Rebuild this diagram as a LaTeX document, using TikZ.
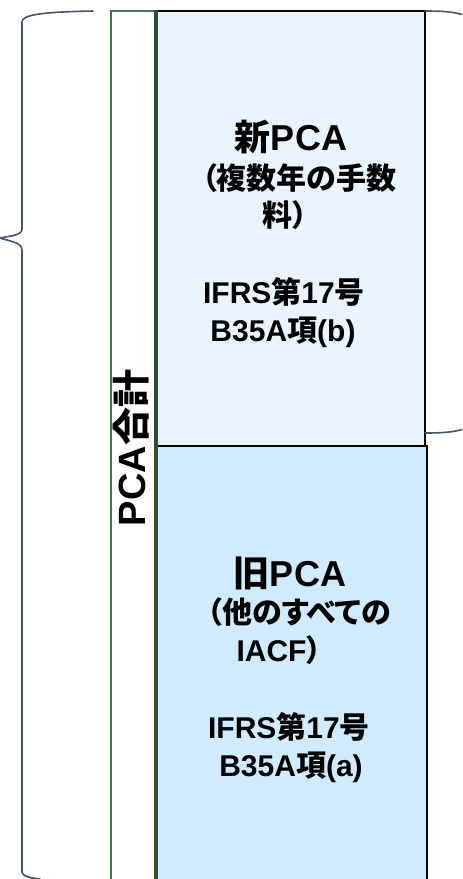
\documentclass[tikz,border=0pt]{standalone}
\usepackage{fontspec}
\setmainfont{Liberation Sans}
\newfontfamily\jp[RawFeature=+palt]{Noto Sans CJK JP}
\newcommand\J[1]{{\jp #1}}
\definecolor{topfill}{HTML}{E9F5FE}
\definecolor{botfill}{HTML}{D0EAFE}
\definecolor{stripgreen}{HTML}{4A6E4E}
\definecolor{darkgreen}{HTML}{2F4F33}
\definecolor{bracecol}{HTML}{44546A}
\begin{document}
\begin{tikzpicture}[x=0.75pt,y=-0.75pt,
  txt/.style={inner sep=0pt,anchor=base,font=\bfseries\fontsize{22.5}{27}\selectfont},
  ttl/.style={inner sep=0pt,anchor=base,font=\bfseries\fontsize{27}{30}\selectfont},
  bracestyle/.style={draw=bracecol,line width=1.2pt,line cap=round}]
\useasboundingbox (0,0) rectangle (462,879);
\clip (0,0) rectangle (462,879);
% boxes
\fill[topfill] (157,11) rectangle (425,446);
\fill[botfill] (157,446) rectangle (427,895);
\draw[stripgreen,line width=1.2pt] (111,895) -- (111,11) -- (157,11);
\draw[black,line width=1.5pt] (157,11) -- (425,11) -- (425,446);
\draw[black,line width=1.5pt] (157,446) -- (427,446) -- (427,895);
\draw[darkgreen,line width=2.4pt] (156,10.2) -- (156,895);
% left brace
\draw[bracestyle] (93,11) .. controls (40,12) and (22,15) .. (22,22)
  -- (22,229) .. controls (22,236) and (8,236) .. (0,238)
  .. controls (8,241) and (22,242) .. (22,250)
  -- (22,872) .. controls (22,876) and (30,878) .. (40,879);
% right brace ends
\draw[bracestyle] (425,11) .. controls (445,11) and (460,12) .. (470,18);
\draw[bracestyle] (425,433) .. controls (445,433) and (460,432) .. (470,426);
% vertical label
\node[inner sep=0pt,rotate=90,font=\bfseries\fontsize{28.5}{30}\selectfont] (total) at (131,448) {PCA\J{合計}};
% top box texts
\node[ttl] (n1) at (291,150) {\J{新}PCA};
\node[txt] (n2) at (299,189) {\J{（複数年の手数}};
\node[txt] (n3) at (285,226) {\J{料）}};
\node[txt] (n4) at (284,303) {IFRS\J{第}17\J{号}};
\node[txt] (n5) at (283,341) {B35A\J{項}(b)};
% bottom box texts
\node[ttl] (o1) at (290,586) {\J{旧}PCA};
\node[txt] (o2) at (299,623) {\J{（他のすべての}};
\node[txt] (o3) at (279,661) {IACF\J{）}};
\node[txt] (o4) at (289,738) {IFRS\J{第}17\J{号}};
\node[txt] (o5) at (291,776) {B35A\J{項}(a)};
\end{tikzpicture}
\end{document}
